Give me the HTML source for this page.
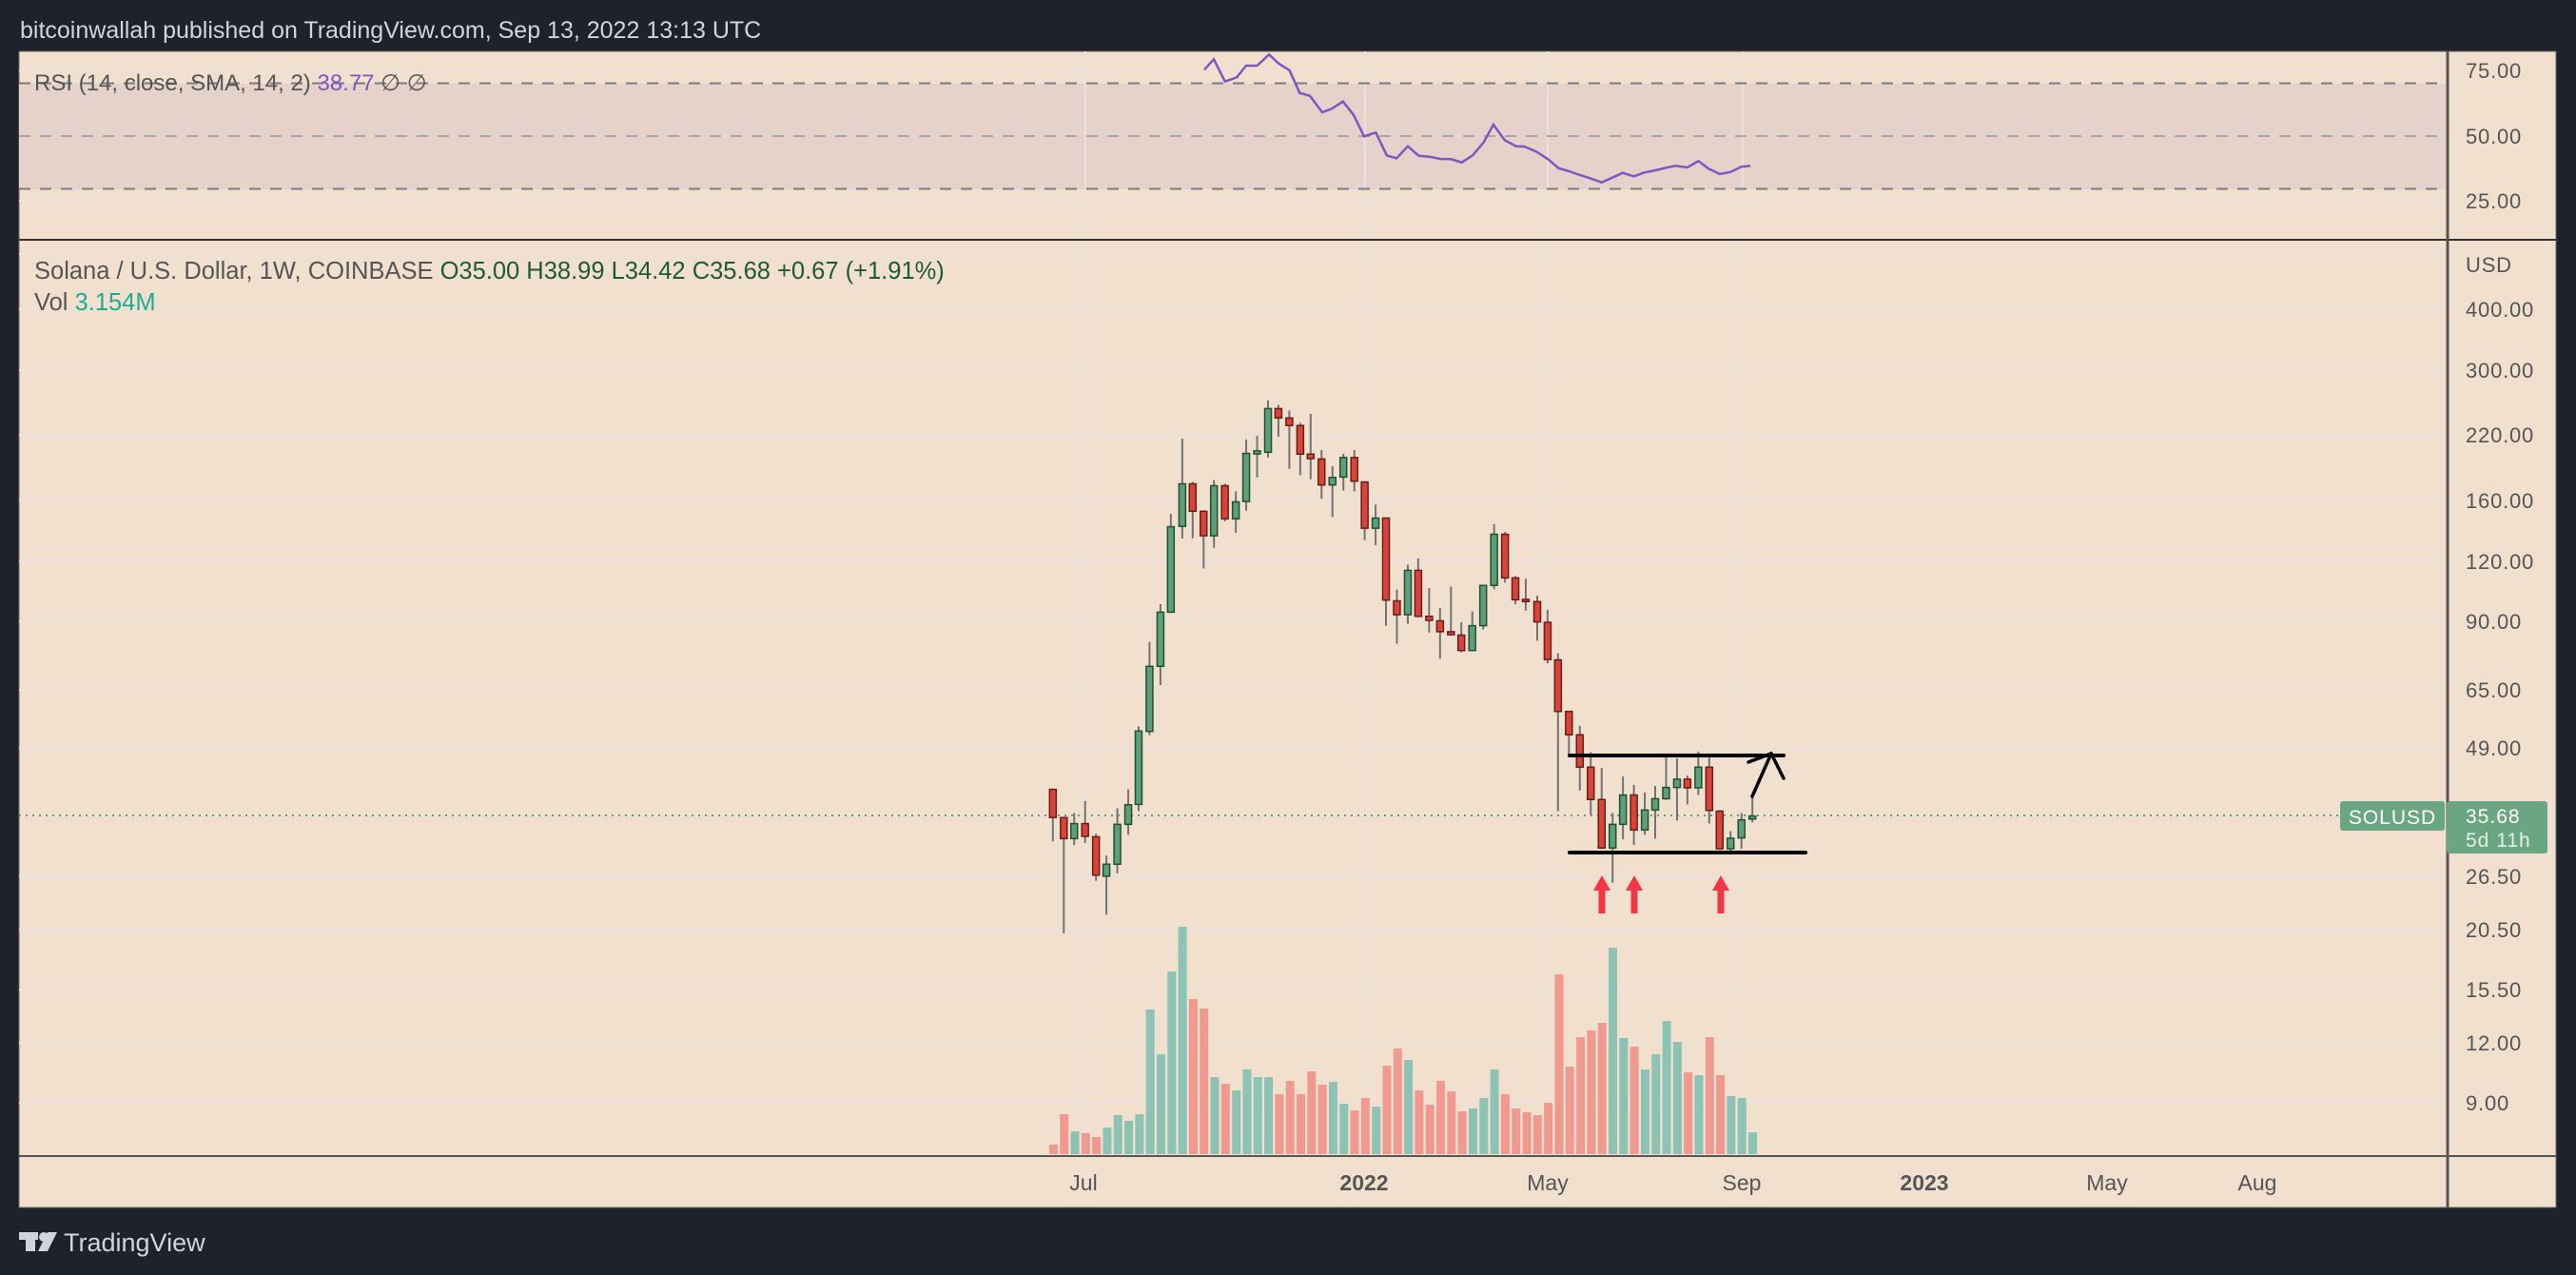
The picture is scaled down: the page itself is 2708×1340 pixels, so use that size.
<!DOCTYPE html>
<html><head><meta charset="utf-8"><style>
html,body{margin:0;padding:0;background:#1e222d;}
svg{display:block;}
text{font-family:"Liberation Sans",sans-serif;}
</style></head><body>
<svg id="s" width="2708" height="1340" viewBox="0 0 2708 1340" xmlns="http://www.w3.org/2000/svg">
<rect x="0" y="0" width="2708" height="1340" fill="#1e222d"/>
<text x="21" y="40" font-size="25" fill="#d1d4dc">bitcoinwallah published on TradingView.com, Sep 13, 2022 13:13 UTC</text>
<rect x="20" y="54" width="2667" height="1215" fill="#f2e0cf" stroke="#6a6a6a" stroke-width="1"/>
<rect x="20" y="88" width="2553" height="111" fill="#e5d2cb"/>
<g id="grid" stroke="#e9e2dc" stroke-width="2"></g>
<line x1="20" y1="87.5" x2="2573" y2="87.5" stroke="#7b7b80" stroke-width="2" stroke-dasharray="12,10"/>
<line x1="20" y1="143" x2="2573" y2="143" stroke="#a9a6aa" stroke-width="2" stroke-dasharray="12,10"/>
<line x1="20" y1="198.5" x2="2573" y2="198.5" stroke="#7b7b80" stroke-width="2" stroke-dasharray="12,10"/>
<line x1="20" y1="252" x2="2687" y2="252" stroke="#333" stroke-width="2"/>
<line x1="20" y1="1215" x2="2687" y2="1215" stroke="#555" stroke-width="2"/>
<line x1="2573" y1="54" x2="2573" y2="1269" stroke="#555" stroke-width="3"/>
<g id="vol"></g>
<line x1="20" y1="857" x2="2460" y2="857" stroke="#5a9e78" stroke-width="2" stroke-dasharray="2,5"/>
<g id="c"></g>
<polyline id="rsi" fill="none" stroke="#7e57c2" stroke-width="2.5"/>
<g stroke="#000" stroke-width="4" fill="none" stroke-linecap="round">
<line x1="1650" y1="794" x2="1875" y2="794"/>
<line x1="1650" y1="896" x2="1898" y2="896"/>
<polyline points="1842,837 1862,792" stroke-width="3.5"/>
<polyline points="1838,801 1862,792 1875,818" stroke-width="3.5"/>
</g>
<g fill="#f23645" stroke="#f23645">
<g id="arrows"></g>
</g>
<text x="36" y="95" font-size="24" fill="#555">RSI (14, close, SMA, 14, 2) <tspan fill="#7e57c2">38.77</tspan> ∅ ∅</text>
<text x="36" y="293" font-size="25.5" fill="#555">Solana / U.S. Dollar, 1W, COINBASE  <tspan fill="#1e5a35">O35.00  H38.99  L34.42  C35.68  +0.67 (+1.91%)</tspan></text>
<text x="36" y="326" font-size="25.5" fill="#555">Vol  <tspan fill="#22ab94">3.154M</tspan></text>
<g font-size="22" fill="#555" letter-spacing="0.8" id="ax"></g>
<rect x="2460" y="842" width="110" height="31" rx="3" fill="#6aa682"/>
<text x="2515" y="866" font-size="21" fill="#fff" text-anchor="middle" letter-spacing="1">SOLUSD</text>
<rect x="2572" y="842" width="106" height="55" rx="3" fill="#6aa682"/>
<text x="2592" y="865" font-size="21" fill="#fff" letter-spacing="1">35.68</text>
<text x="2592" y="890" font-size="21" fill="#e6f0ea" letter-spacing="1">5d 11h</text>
<g font-size="23" fill="#555" text-anchor="middle">
<text x="1139" y="1251">Jul</text>
<text x="1434" y="1251" font-weight="bold">2022</text>
<text x="1627" y="1251">May</text>
<text x="1831" y="1251">Sep</text>
<text x="2023" y="1251" font-weight="bold">2023</text>
<text x="2215" y="1251">May</text>
<text x="2373" y="1251">Aug</text>
</g>
<g fill="#d1d4dc">
<rect x="20" y="1295" width="20" height="8"/><rect x="27" y="1295" width="10" height="20"/>
<circle cx="46" cy="1300" r="5"/><polygon points="50,1295 60,1295 50,1315 40,1315"/>
</g>
<text x="67" y="1315" font-size="27" fill="#d1d4dc">TradingView</text>
</svg>
<script>
var NS="http://www.w3.org/2000/svg";
function el(p,t,a){var e=document.createElementNS(NS,t);for(var k in a)e.setAttribute(k,a[k]);p.appendChild(e);return e;}
var grid=document.getElementById('grid');
[74,211,267,325,389,457,526,590,653,725,786,921,977,1040,1096,1159].forEach(function(y){el(grid,'line',{x1:20,x2:2573,y1:y,y2:y});});
[1141,1435,1627,1832].forEach(function(x){el(grid,'line',{x1:x,x2:x,y1:54,y2:1215});});
var ax=document.getElementById('ax');
[["75.00",74],["50.00",143],["25.00",211],["USD",278],["400.00",325],["300.00",389],["220.00",457],["160.00",526],["120.00",590],["90.00",653],["65.00",725],["49.00",786],["26.50",921],["20.50",977],["15.50",1040],["12.00",1096],["9.00",1159]].forEach(function(a){var t=el(ax,'text',{x:2592,y:a[1]+8});t.textContent=a[0];});
var C=[[99,1137,1212,1137,1275,0],[119,1212,1268,1212,1520,0],[138,1228,1268,1200,1285,1],[158,1228,1262,1168,1280,0],[178,1263,1365,1255,1380,0],[197,1336,1368,1313,1470,1],[217,1230,1336,1187,1360,1],[237,1178,1230,1137,1258,1],[256,982,1177,970,1195,1],[276,810,983,745,993,1],[296,666,810,645,860,1],[315,439,666,405,668,1],[336,325,438,205,470,1],[355,325,398,320,470,0],[375,398,463,395,550,0],[394,330,463,315,495,1],[414,330,418,325,425,0],[434,373,418,345,455,1],[453,244,372,207,396,1],[473,240,243,197,308,1],[493,125,241,103,255,1],[512,125,150,115,200,0],[532,150,170,130,285,0],[552,170,246,163,302,0],[571,246,258,139,313,0],[591,259,328,235,365,0],[611,308,328,278,413,1],[631,255,307,245,343,1],[651,255,318,235,345,0],[670,320,443,320,475,0],[690,416,443,380,488,1],[709,416,634,416,702,0],[729,636,673,606,750,0],[749,555,673,540,697,1],[768,555,677,523,680,0],[788,677,688,602,720,0],[808,689,718,655,790,0],[828,718,726,598,728,0],[847,727,768,693,773,0],[867,702,768,664,770,1],[887,595,702,595,712,1],[907,459,595,432,605,1],[927,459,575,453,588,0],[946,575,633,570,645,0],[965,632,638,577,662,0],[986,638,692,622,742,0],[1005,693,792,660,802,0],[1024,793,930,775,1195,0],[1044,930,992,930,1048,0],[1064,992,1078,968,1140,0],[1084,1078,1164,1038,1205,0],[1104,1164,1293,1080,1295,0],[1124,1230,1293,1200,1385,1],[1143,1152,1230,1103,1270,1],[1163,1152,1245,1125,1285,0],[1183,1192,1245,1145,1258,1],[1202,1162,1192,1128,1268,1],[1222,1132,1162,1045,1165,1],[1242,1110,1132,1055,1220,1],[1261,1110,1133,1100,1177,0],[1281,1078,1133,1037,1152,1],[1301,1078,1193,1050,1228,0],[1320,1195,1295,1192,1298,0],[1340,1267,1295,1248,1300,1],[1360,1218,1266,1200,1295,1],[1380,1208,1216,1155,1225,1]];
var cg=document.getElementById('c');
function X(v){return 1050+v/1.742;}function Y(v){return 380+v/2.529;}
C.forEach(function(c){var x=X(c[0]);
el(cg,'line',{x1:x,x2:x,y1:Y(c[3]),y2:Y(c[4]),stroke:'#737373','stroke-width':2});
var t=Y(c[1]),b=Y(c[2]);if(b-t<2){t-=1;b+=1;}
el(cg,'rect',{x:x-3.5,y:t,width:7,height:b-t,fill:c[5]?'#5e9f7a':'#d8443a',stroke:c[5]?'#1e5233':'#6b1d1a','stroke-width':1.5});});
var V=[[729,0],[633,0],[687,1],[693,0],[705,0],[675,1],[636,1],[654,1],[633,1],[303,1],[444,1],[183,1],[42,1],[270,0],[300,0],[516,1],[537,0],[558,1],[492,1],[516,1],[516,1],[570,0],[528,0],[570,0],[498,0],[540,0],[531,1],[600,1],[621,0],[582,0],[609,1],[480,0],[426,0],[462,1],[558,0],[603,0],[528,0],[561,0],[624,0],[615,1],[582,1],[492,1],[570,0],[615,0],[627,0],[636,0],[597,0],[192,0],[483,0],[390,0],[369,0],[345,0],[108,1],[393,1],[420,0],[492,1],[444,1],[339,1],[405,1],[501,0],[510,1],[390,0],[510,0],[576,1],[582,1],[690,1]];
var vg=document.getElementById('vol');
V.forEach(function(v,i){var x=1107.4+i*11.31;var t=960+v[0]/3;el(vg,'rect',{x:x-4.5,y:t,width:9,height:1213-t,fill:v[1]?'#8cc3b5':'#f0998f'});});
var R=[[68,70],[94,37],[125,107],[157,94],[183,57],[213,57],[246,22],[272,50],[302,72],[330,143],[358,152],[392,204],[418,193],[449,170],[478,212],[507,280],[539,268],[569,340],[596,349],[627,311],[657,341],[686,344],[716,351],[746,352],[775,362],[805,340],[835,299],[862,243],[893,292],[925,311],[947,312],[980,328],[1012,352],[1041,380],[1070,390],[1100,402],[1130,413],[1160,425],[1189,410],[1217,395],[1248,406],[1277,394],[1307,387],[1336,379],[1362,373],[1395,378],[1425,358],[1453,382],[1484,399],[1514,392],[1543,376],[1568,373]];
document.getElementById('rsi').setAttribute('points',R.map(function(p){return (1240+p[0]/2.613).toFixed(1)+','+(50+p[1]/3).toFixed(1);}).join(' '));
var ag=document.getElementById('arrows');
[1684,1718,1809].forEach(function(x){el(ag,'rect',{x:x-3.5,y:932,width:7,height:28,stroke:'none'});el(ag,'polygon',{points:(x-9)+',936 '+x+',920 '+(x+9)+',936',stroke:'none'});});
</script>
</body></html>
